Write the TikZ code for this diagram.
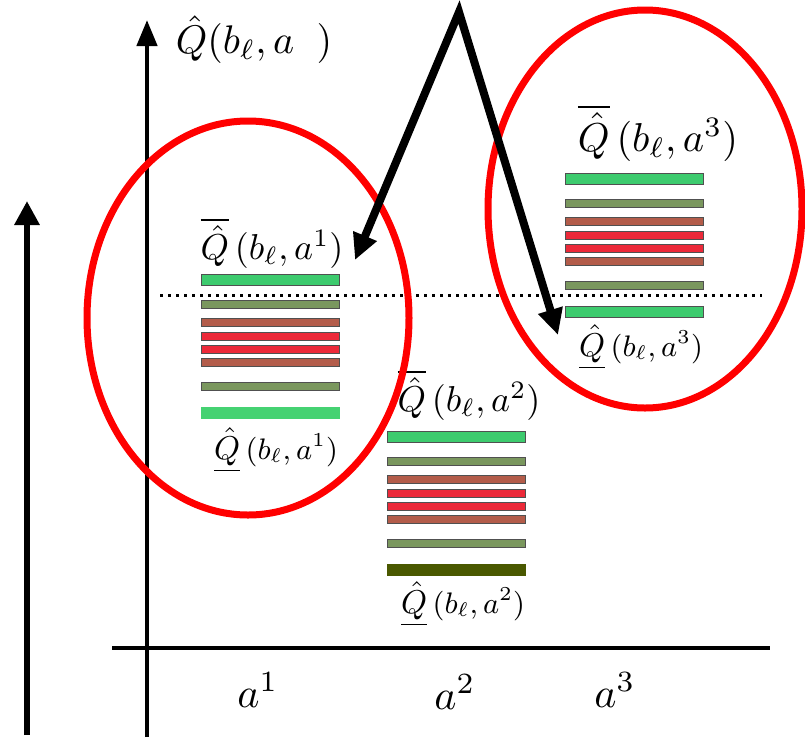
\documentclass[tikz,border=0pt]{standalone}
\usepackage{amsmath}
\usepackage{tikz}
\usetikzlibrary{arrows.meta}
\definecolor{qbGreen}{HTML}{3DCB6E}
\definecolor{qbGreenPale}{HTML}{45D272}
\definecolor{qbOlive}{HTML}{7A975E}
\definecolor{qbBrown}{HTML}{B35C4A}
\definecolor{qbRed}{HTML}{EC2939}
\definecolor{qbDark}{HTML}{4A5800}
\definecolor{qbEdge}{HTML}{505050}
\tikzset{
  qb diagram/.style={x=1pt, y=-1pt},
  qb bar/.style={draw=qbEdge, line width=0.8pt},
  qb axis/.style={draw=black, line width=4.5pt},
  qb ring/.style={draw=red, line width=7pt},
  qb pointer/.style={draw=black, line width=8pt, line join=miter,
    {Triangle[length=26pt,width=24pt]}-{Triangle[length=26pt,width=24pt]}},
  qb dots/.style={draw=black, line width=3pt, dash pattern=on 3pt off 5pt},
  qb label/.style={inner sep=0pt, font=\normalsize, scale=3.6},
  qb low/.style={inner sep=0pt, font=\normalsize, scale=3.3},
  qb tick/.style={inner sep=0pt, font=\normalsize, scale=4.2}
}
\newcommand{\qbsmall}[1]{{\small$#1$}}

\begin{document}
\begin{tikzpicture}[qb diagram]
\useasboundingbox (0,0) rectangle (805,737);
% axes
\coordinate (sb) at (27,735);
\coordinate (st) at (27,201);
\coordinate (ybot) at (147,737);
\coordinate (ytop) at (147,20);
\coordinate (xl) at (112,648);
\coordinate (xr) at (770,648);
\draw[qb axis, line width=6pt, -{Triangle[length=24pt,width=24pt]}] (sb) -- (st);
\draw[qb axis, -{Triangle[length=26pt,width=20pt]}] (ybot) -- (ytop);
\draw[qb axis] (xl) -- (xr);
\node[qb label, scale=1.11, anchor=west] (ylab) at (175,40) {$\hat{Q}(b_\ell, a\;\;)$};
\node[qb tick] (a1) at (258,690) {$a^1$};
\node[qb tick] (a2) at (455,692) {$a^2$};
\node[qb tick] (a3) at (615,690) {$a^3$};
% bars of the three actions
\foreach \gx/\gy/\lowc/\lowe in {201/274/qbGreenPale/qbGreenPale, 387/431/qbDark/qbDark, 565/173/qbGreen/qbEdge}{
  \foreach \dy/\h/\c in {0/11/qbGreen, 26/8/qbOlive, 44/8/qbBrown, 58/8/qbRed, 71/8/qbRed, 84/8/qbBrown, 108/8/qbOlive}
    \filldraw[qb bar, fill=\c] (\gx,\gy+\dy) rectangle ++(138,\h);
  \filldraw[qb bar, draw=\lowe, fill=\lowc] (\gx,\gy+133) rectangle ++(138,11);
}
\coordinate (dl) at (160,295);
\coordinate (dr) at (762,295);
\draw[qb dots] (dl) -- (dr);
% bounds
\node[qb label] (up1) at (272,243) {$\overline{\hat{Q}}\,(b_\ell,a^1)$};
\node[qb low] (lo1) at (276,450) {$\underline{\hat{Q}}$\,\qbsmall{(b_\ell,a^1)}};
\node[qb label] (up2) at (469,395) {$\overline{\hat{Q}}\,(b_\ell,a^2)$};
\node[qb low] (lo2) at (463,604) {$\underline{\hat{Q}}$\,\qbsmall{(b_\ell,a^2)}};
\node[qb label, scale=1.12] (up3) at (658,133) {$\overline{\hat{Q}}\,(b_\ell,a^3)$};
\node[qb low] (lo3) at (641,347) {$\underline{\hat{Q}}$\,\qbsmall{(b_\ell,a^3)}};
% rings and pointers
\draw[qb ring] (248,318) ellipse [x radius=161, y radius=197];
\draw[qb ring] (645,209) ellipse [x radius=157, y radius=199];
\coordinate (apex) at (459,12);
\coordinate (tip1) at (355,260);
\coordinate (tip3) at (558,335);
\draw[qb pointer] (tip1) -- (apex) -- (tip3);
\end{tikzpicture}
\end{document}
